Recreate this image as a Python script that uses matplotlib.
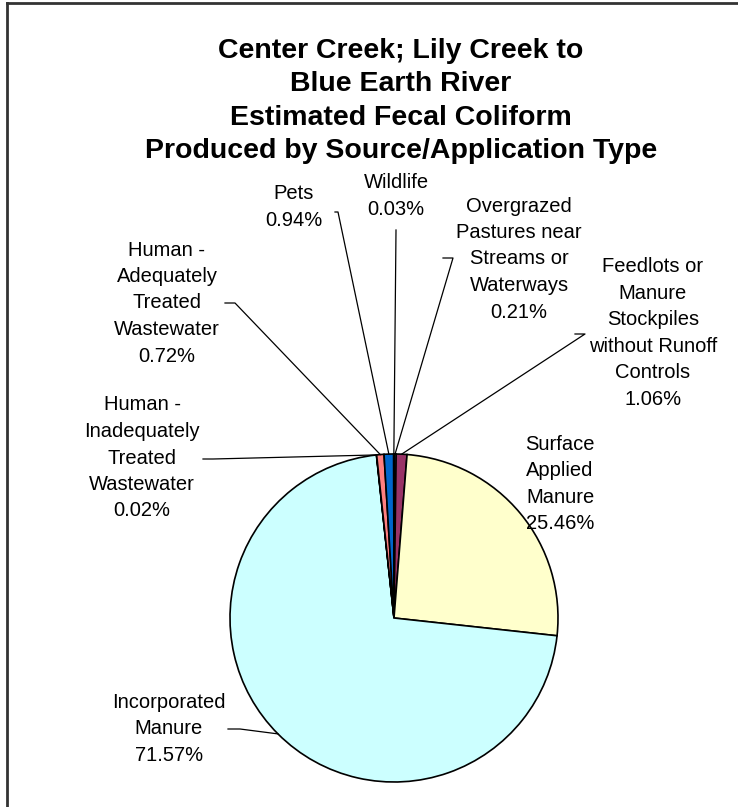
import numpy as np
import matplotlib.pyplot as plt

# slices, clockwise from 12 o'clock
sources = ['Overgrazed\nPastures near\nStreams or\nWaterways',
           'Feedlots or\nManure\nStockpiles\nwithout Runoff\nControls',
           'Surface\nApplied\nManure',
           'Incorporated\nManure',
           'Human -\nInadequately\nTreated\nWastewater',
           'Human -\nAdequately\nTreated\nWastewater',
           'Pets',
           'Wildlife']
percent = [0.21, 1.06, 25.46, 71.57, 0.02, 0.72, 0.94, 0.03]
colors = ['#9999FF', '#993366', '#FFFFCC', '#CCFFFF',
          '#660066', '#FF8080', '#0066CC', '#CCCCFF']

title = ('Center Creek; Lily Creek to\nBlue Earth River\n'
         'Estimated Fecal Coliform\nProduced by Source/Application Type')

H = 807
# label centre (x, y from top) and leader tick (x start, x end, y) or None
label_pos = [(519, 259), (653, 333), (560, 484), (169, 729),
             (142, 458), (167, 303), (294, 207), (396, 196)]
leaders = [(443, 453, 258), (575, 585, 334), None, (228, 240, 729),
           (203, 213, 459), (225, 235, 303), (335, 338, 212), (396, 396, 230)]

fig = plt.figure(figsize=(7.38, 8.07), dpi=100)
ax = fig.add_axes([0, 0, 1, 1])

cx, cy, r = 394, H - 618, 164
wedges, _ = ax.pie(percent, colors=colors, startangle=90, counterclock=False,
                   center=(cx, cy), radius=r, frame=True,
                   wedgeprops=dict(edgecolor='black', linewidth=1.2))
ax.set_xlim(0, 738)
ax.set_ylim(0, H)
ax.set_aspect('equal')
ax.axis('off')

for w, name, pct, pos, ld in zip(wedges, sources, percent, label_pos, leaders):
    ax.text(pos[0], H - pos[1], f'{name}\n{pct:.2f}%', ha='center', va='center',
            fontsize=14.5, family='Liberation Sans', linespacing=1.5)
    if ld is None:
        continue
    mid = np.deg2rad((w.theta1 + w.theta2) / 2)
    ex, ey = cx + r * np.cos(mid), cy + r * np.sin(mid)
    ax.plot([ld[0], ld[1], ex], [H - ld[2], H - ld[2], ey],
            color='black', linewidth=0.9)

ax.text(401, H - 101, title, ha='center', va='center', fontsize=20.5,
        fontweight='bold', family='Liberation Sans', linespacing=1.38)

# chart area border (top and left edges only visible)
ax.plot([7, 738], [H - 3, H - 3], color='#333333', linewidth=2)
ax.plot([7, 7], [H - 3, 0], color='#333333', linewidth=2)

fig.savefig('out.png', dpi=100)
